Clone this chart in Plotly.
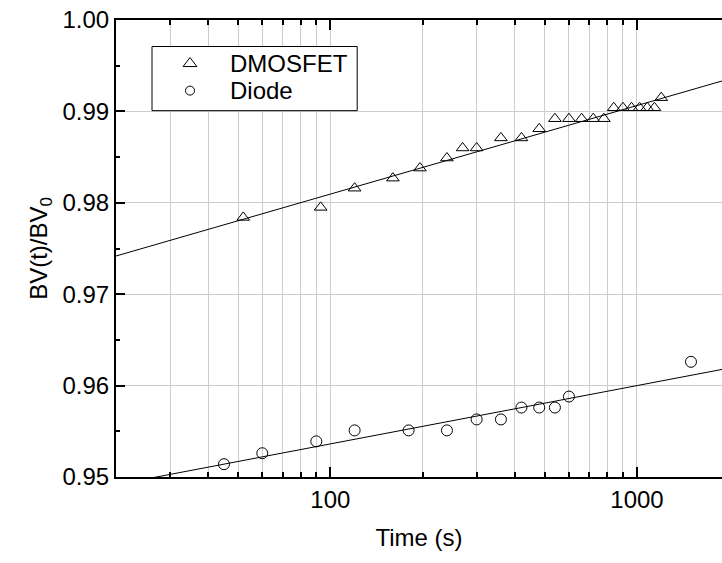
import numpy as np
import plotly.graph_objects as go

# ---- data ----
dmos_t = [52, 93, 120, 160, 196, 240, 270, 300, 360, 420, 480, 540, 600, 660,
          720, 780, 840, 900, 960, 1020, 1080, 1140, 1200]
dmos_bv = [0.9784, 0.9795, 0.9816, 0.9827, 0.9838, 0.9849, 0.9860, 0.9860,
           0.9871, 0.9871, 0.9881, 0.9892, 0.9892, 0.9892, 0.9892, 0.9892,
           0.9904, 0.9904, 0.9904, 0.9904, 0.9904, 0.9904, 0.9915]
diode_t = [45, 60, 90, 120, 180, 240, 300, 360, 420, 480, 540, 600, 1500]
diode_bv = [0.9514, 0.9526, 0.9539, 0.9551, 0.9551, 0.9551, 0.9563, 0.9563,
            0.9576, 0.9576, 0.9576, 0.9588, 0.9626]

# linear fits BV = a + b*log10(t)
dmos_fit = (0.96157, 0.00969)
diode_fit = (0.94086, 0.00638)
fit_t = [10, 3000]

series_names = ["DMOSFET", "Diode"]

x_major = [100, 1000]
x_major_labels = ["100", "1000"]
x_minor = [20, 30, 40, 50, 60, 70, 80, 90, 200, 300, 400, 500, 600, 700, 800, 900, 2000]
y_ticks = [0.95, 0.96, 0.97, 0.98, 0.99, 1.00]
y_ticklabels = ["0.95", "0.96", "0.97", "0.98", "0.99", "1.00"]

FONT = "Arial, Liberation Sans, sans-serif"

# legend layout (fractions of the plot area)
LEG_X0, LEG_X1, LEG_Y0, LEG_Y1 = 0.0594, 0.398, 0.8016, 0.942
LEG_SYM_X = 0.1221
LEG_TXT_X = 0.1848
LEG_ROWS_Y = [0.9047, 0.8455]


def fit_line(coef, ts):
    a, b = coef
    return [a + b * np.log10(t) for t in ts]


fig = go.Figure()
fig.add_trace(go.Scatter(x=fit_t, y=fit_line(dmos_fit, fit_t), mode="lines",
                         line=dict(color="black", width=1), showlegend=False,
                         hoverinfo="skip"))
fig.add_trace(go.Scatter(x=fit_t, y=fit_line(diode_fit, fit_t), mode="lines",
                         line=dict(color="black", width=1), showlegend=False,
                         hoverinfo="skip"))
fig.add_trace(go.Scatter(x=dmos_t, y=dmos_bv, mode="markers", name=series_names[0],
                         showlegend=False,
                         marker=dict(symbol="triangle-up-open", size=11,
                                     color="black", line=dict(width=1, color="black"))))
fig.add_trace(go.Scatter(x=diode_t, y=diode_bv, mode="markers", name=series_names[1],
                         showlegend=False,
                         marker=dict(symbol="circle-open", size=11,
                                     color="black", line=dict(width=1, color="black"))))

# legend: white box, sample symbols and labels (on an overlay 0..1 subplot)
fig.add_trace(go.Scatter(x=[LEG_X0, LEG_X1, LEG_X1, LEG_X0, LEG_X0],
                         y=[LEG_Y0, LEG_Y0, LEG_Y1, LEG_Y1, LEG_Y0],
                         xaxis="x2", yaxis="y2", mode="lines", fill="toself",
                         fillcolor="white", line=dict(color="black", width=1),
                         showlegend=False, hoverinfo="skip"))
fig.add_trace(go.Scatter(x=[LEG_SYM_X], y=[LEG_ROWS_Y[0]], xaxis="x2", yaxis="y2",
                         mode="markers", showlegend=False, hoverinfo="skip",
                         marker=dict(symbol="triangle-up-open", size=12, color="black",
                                     line=dict(width=1, color="black"))))
fig.add_trace(go.Scatter(x=[LEG_SYM_X], y=[LEG_ROWS_Y[1]], xaxis="x2", yaxis="y2",
                         mode="markers", showlegend=False, hoverinfo="skip",
                         marker=dict(symbol="circle-open", size=9, color="black",
                                     line=dict(width=1, color="black"))))
for name, yy in zip(series_names, LEG_ROWS_Y):
    fig.add_annotation(x=LEG_TXT_X, y=yy, xref="x domain", yref="y domain",
                       text=name, showarrow=False, xanchor="left", yanchor="middle",
                       font=dict(family=FONT, size=24, color="black"))

fig.update_layout(
    width=722, height=563,
    margin=dict(l=116, r=0, t=20, b=86),
    paper_bgcolor="white", plot_bgcolor="white",
    font=dict(family=FONT, size=24, color="black"),
    showlegend=False,
    xaxis=dict(
        type="log", range=[np.log10(20), 3.2773],
        tickmode="array", tickvals=x_major, ticktext=x_major_labels,
        ticks="inside", ticklen=10, tickwidth=2, tickcolor="black",
        showline=True, linewidth=2, linecolor="black", mirror="ticks",
        showgrid=True, gridcolor="#cccccc", gridwidth=1,
        zeroline=False,
        minor=dict(tickmode="array", tickvals=x_minor, ticks="inside",
                   ticklen=5, tickwidth=1.5, tickcolor="black",
                   showgrid=True, gridcolor="#cccccc", gridwidth=1),
        title=dict(text="Time (s)", font=dict(size=24), standoff=17),
        tickfont=dict(size=24),
    ),
    yaxis=dict(
        range=[0.95, 1.00],
        tickmode="array", tickvals=y_ticks, ticktext=y_ticklabels,
        ticks="inside", ticklen=9, tickwidth=2, tickcolor="black",
        showline=True, linewidth=2, linecolor="black",
        showgrid=True, gridcolor="#cccccc", gridwidth=1,
        zeroline=False,
        minor=dict(dtick=0.005, ticks="inside", ticklen=4, tickwidth=1.5,
                   tickcolor="black", showgrid=False),
        title=dict(text="BV(t)/BV<sub>0</sub>", font=dict(size=24), standoff=8),
        tickfont=dict(size=24),
    ),
    xaxis2=dict(overlaying="x", range=[0, 1], visible=False, fixedrange=True),
    yaxis2=dict(overlaying="y", range=[0, 1], visible=False, fixedrange=True),
)

fig.write_html("out.html")
